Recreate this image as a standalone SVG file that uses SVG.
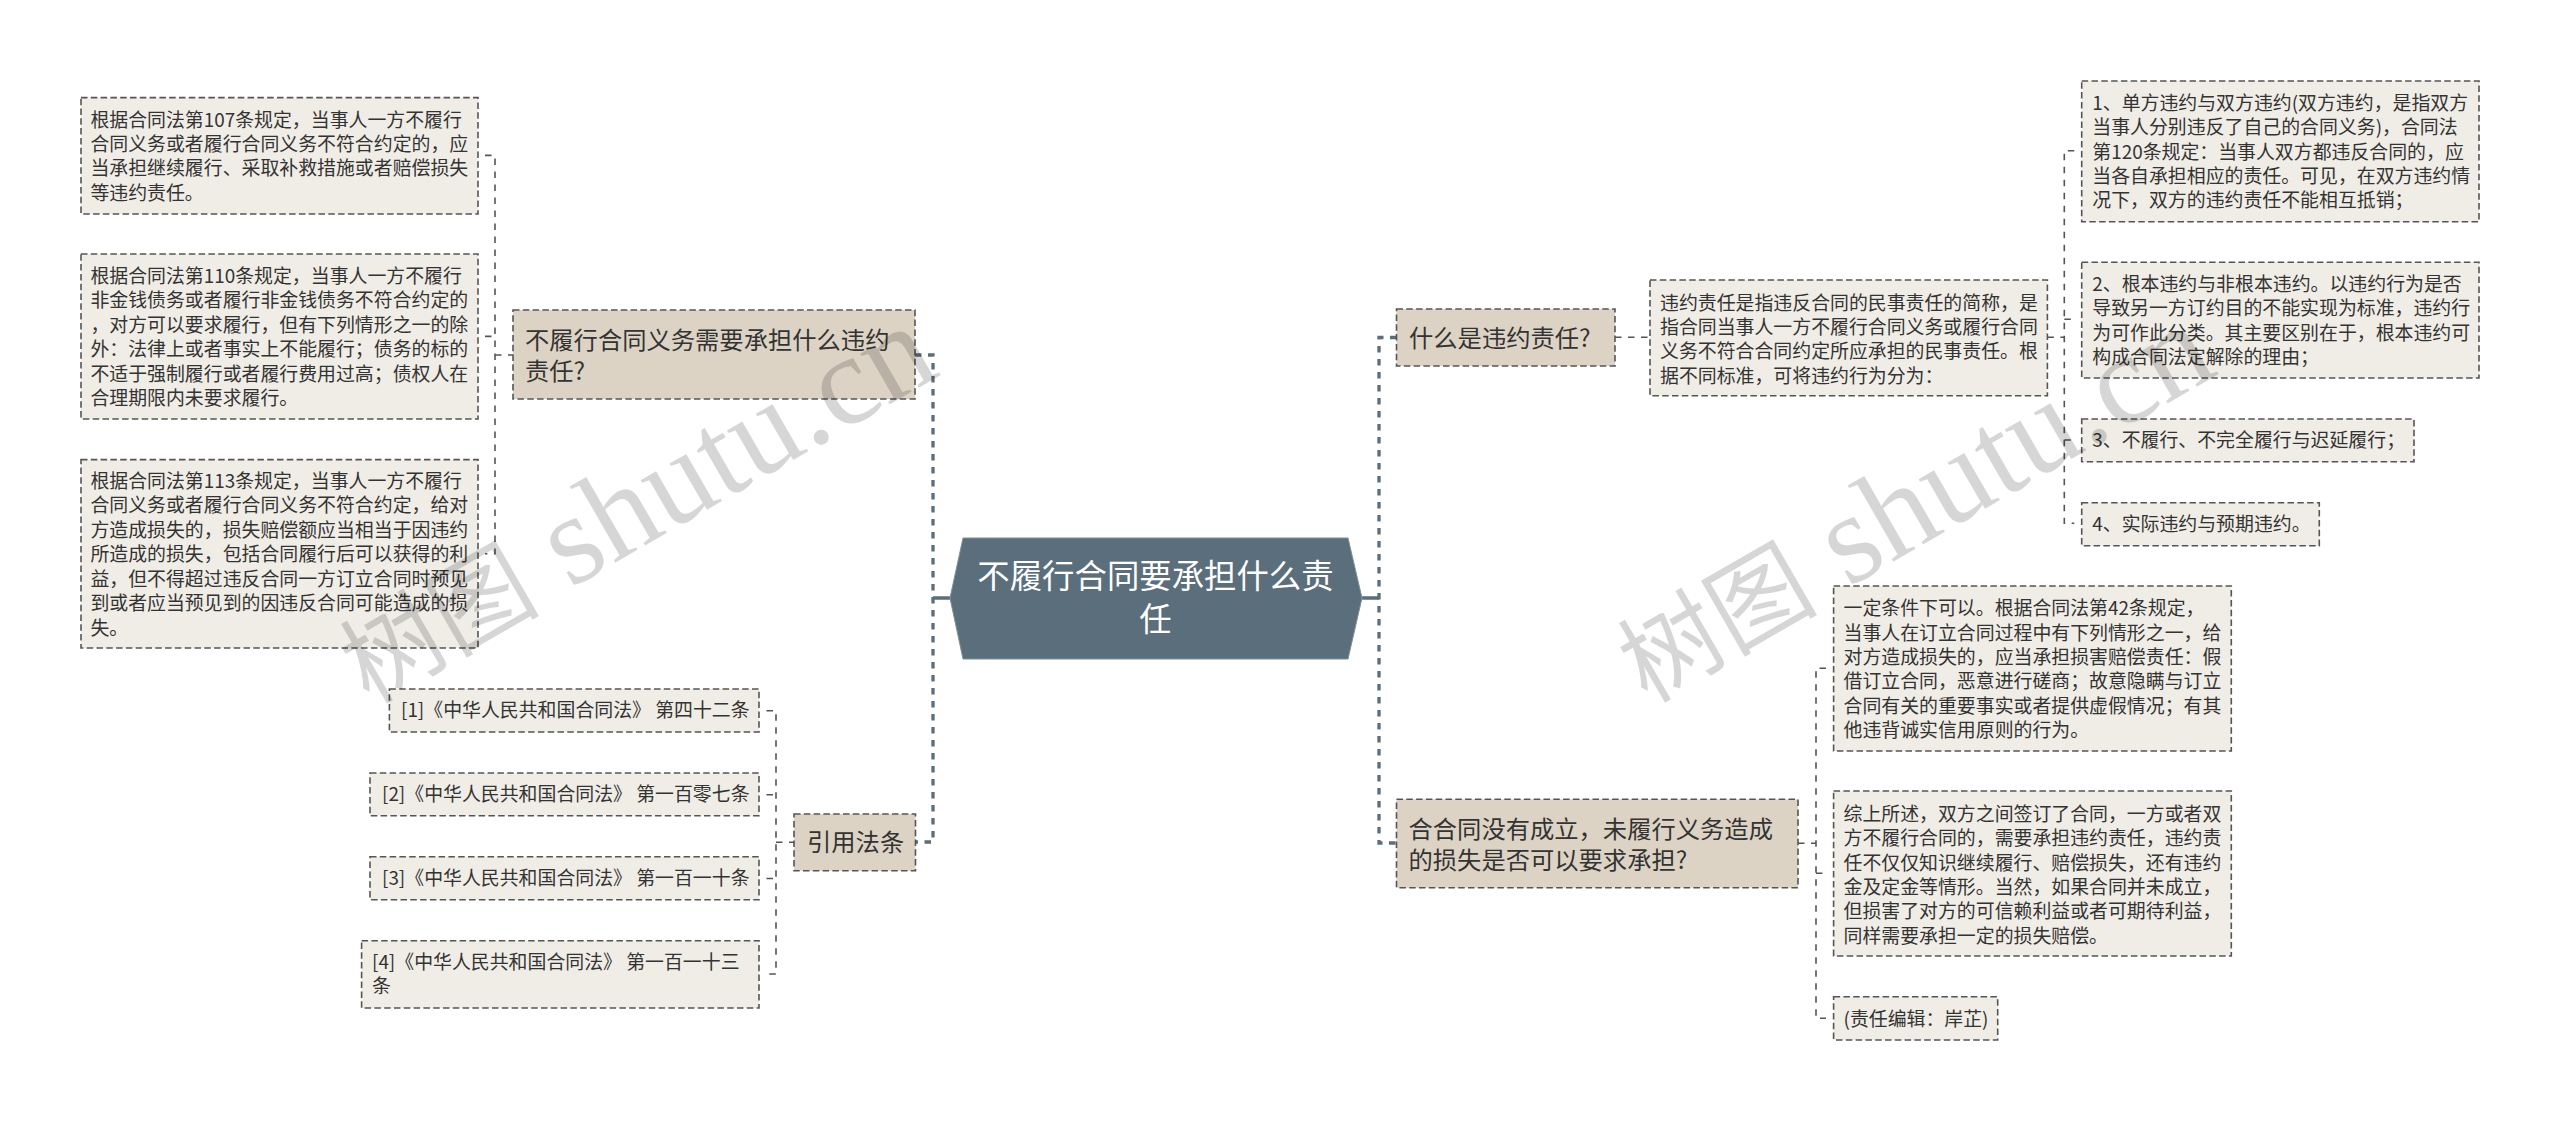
<svg xmlns="http://www.w3.org/2000/svg" width="2560" height="1121" viewBox="0 0 2560 1121">
<style>
text{font-family:"Noto Sans CJK SC","Noto Sans",sans-serif;fill:#333}
.leaf rect{fill:#f0ede6;stroke:#555;stroke-width:1.6;stroke-dasharray:6.5 3.3}
.leaf text{font-size:18.9px}
.branch rect{fill:#ddd3c5;stroke:#555;stroke-width:1.6;stroke-dasharray:6.5 3.3}
.branch text{font-size:24.3px}
.root polygon{fill:#5b6e7b;stroke:#7f8f9a;stroke-width:1}
.root text{font-size:32.4px;fill:#fff;text-anchor:middle}
.c1{fill:none;stroke:#5b6e7b;stroke-width:3.3;stroke-dasharray:6.5 6.5}
.c1s{fill:none;stroke:#5b6e7b;stroke-width:3.3}
.c2{fill:none;stroke:#555;stroke-width:1.6;stroke-dasharray:6.5 6.5}
.wm{font-family:"Liberation Serif","Noto Sans CJK SC",serif;font-size:128px;fill:#000;fill-opacity:.16}
.wm .cjk{font-size:100px;font-family:"Noto Sans CJK SC",sans-serif}
</style>
<g id="connectors">
<path class="c1s" d="M950 598H933M1362 598H1379"/>
<path class="c1" d="M915 355H933V842H915"/>
<path class="c1" d="M1396.500 337.500H1379V843H1396.500"/>
<path class="c2" d="M495 355H513M485 155.400H495V553.800H485M485 336.400H495"/>
<path class="c2" d="M776 842.300H794M766.500 710.700H776V974H766.500M766.500 794.700H776M766.500 878.500H776"/>
<path class="c2" d="M1615 337.300H1650"/>
<path class="c2" d="M2047.400 337.300H2064.300M2074.300 150.700H2064.300V523.300H2074.300M2064.300 319.300H2074.300M2064.300 440H2074.300"/>
<path class="c2" d="M1798 843.300H1816M1826 668.300H1816V1018.300H1826M1816 873.300H1826"/>
</g>
<g id="root" class="root"><polygon points="950,598 963,538 1348,538 1362,598 1348,659 963,659"/>
<text x="1155.500" y="588">不履行合同要承担什么责</text><text x="1155.500" y="631">任</text></g>
<g id="n-left-branch" class="branch"><rect x="513" y="310" width="402" height="89"/>
<text x="525" y="349">不履行合同义务需要承担什么违约</text><text x="525" y="380">责任?</text></g>
<g id="n-left-1" class="leaf"><rect x="81" y="97.600" width="397" height="116.400"/>
<text x="90.400" y="126.800">根据合同法第107条规定，当事人一方不履行</text>
<text x="90.400" y="150.900">合同义务或者履行合同义务不符合约定的，应</text>
<text x="90.400" y="175.400">当承担继续履行、采取补救措施或者赔偿损失</text>
<text x="90.400" y="199.500">等违约责任。</text></g>
<g id="n-left-2" class="leaf"><rect x="81" y="254" width="397" height="165"/>
<text x="90.400" y="282.900">根据合同法第110条规定，当事人一方不履行</text>
<text x="90.400" y="307.400">非金钱债务或者履行非金钱债务不符合约定的</text>
<text x="90.400" y="331.900">，对方可以要求履行，但有下列情形之一的除</text>
<text x="90.400" y="356.400">外：法律上或者事实上不能履行；债务的标的</text>
<text x="90.400" y="380.500">不适于强制履行或者履行费用过高；债权人在</text>
<text x="90.400" y="405">合理期限内未要求履行。</text></g>
<g id="n-left-3" class="leaf"><rect x="81" y="459.600" width="397" height="188.400"/>
<text x="90.400" y="487.600">根据合同法第113条规定，当事人一方不履行</text>
<text x="90.400" y="512.200">合同义务或者履行合同义务不符合约定，给对</text>
<text x="90.400" y="536.600">方造成损失的，损失赔偿额应当相当于因违约</text>
<text x="90.400" y="561.100">所造成的损失，包括合同履行后可以获得的利</text>
<text x="90.400" y="586">益，但不得超过违反合同一方订立合同时预见</text>
<text x="90.400" y="610.100">到或者应当预见到的因违反合同可能造成的损</text>
<text x="90.400" y="634.600">失。</text></g>
<g id="n-law-branch" class="branch"><rect x="794" y="814" width="121.500" height="56.700"/>
<text x="807" y="851">引用法条</text></g>
<g id="n-law-1" class="leaf"><rect x="389.400" y="689" width="369.600" height="43"/>
<text x="401" y="717.300">[1]《中华人民共和国合同法》 第四十二条</text></g>
<g id="n-law-2" class="leaf"><rect x="370" y="773" width="389" height="42.700"/>
<text x="382" y="801.300">[2]《中华人民共和国合同法》 第一百零七条</text></g>
<g id="n-law-3" class="leaf"><rect x="370" y="856.700" width="389" height="43"/>
<text x="382" y="885.300">[3]《中华人民共和国合同法》 第一百一十条</text></g>
<g id="n-law-4" class="leaf"><rect x="361.600" y="940.700" width="397.400" height="67.300"/>
<text x="372" y="969.300">[4]《中华人民共和国合同法》 第一百一十三</text><text x="372" y="993.300">条</text></g>
<g id="n-right-branch-1" class="branch"><rect x="1396.500" y="309" width="218.500" height="57"/>
<text x="1409" y="347">什么是违约责任?</text></g>
<g id="n-right-desc" class="leaf"><rect x="1650" y="280" width="397.400" height="115.700"/>
<text x="1660" y="309.900">违约责任是指违反合同的民事责任的简称，是</text>
<text x="1660" y="334.300">指合同当事人一方不履行合同义务或履行合同</text>
<text x="1660" y="358.300">义务不符合合同约定所应承担的民事责任。根</text>
<text x="1660" y="382.600">据不同标准，可将违约行为分为：</text></g>
<g id="n-right-1" class="leaf"><rect x="2081.700" y="81" width="397.300" height="140.700"/>
<text x="2092.300" y="109.900">1、单方违约与双方违约(双方违约，是指双方</text>
<text x="2092.300" y="134.300">当事人分别违反了自己的合同义务)，合同法</text>
<text x="2092.300" y="158.600">第120条规定：当事人双方都违反合同的，应</text>
<text x="2092.300" y="182.900">当各自承担相应的责任。可见，在双方违约情</text>
<text x="2092.300" y="207.300">况下，双方的违约责任不能相互抵销；</text></g>
<g id="n-right-2" class="leaf"><rect x="2081.700" y="262.300" width="397.300" height="115.700"/>
<text x="2092.300" y="290.600">2、根本违约与非根本违约。以违约行为是否</text>
<text x="2092.300" y="315.300">导致另一方订约目的不能实现为标准，违约行</text>
<text x="2092.300" y="339.900">为可作此分类。其主要区别在于，根本违约可</text>
<text x="2092.300" y="363.900">构成合同法定解除的理由；</text></g>
<g id="n-right-3" class="leaf"><rect x="2081.700" y="419" width="332.300" height="42.700"/>
<text x="2092.300" y="447.300">3、不履行、不完全履行与迟延履行；</text></g>
<g id="n-right-4" class="leaf"><rect x="2081.700" y="502.700" width="237.600" height="43"/>
<text x="2092.300" y="530.600">4、实际违约与预期违约。</text></g>
<g id="n-right-branch-2" class="branch"><rect x="1396.500" y="799.300" width="401.500" height="88.400"/>
<text x="1408.500" y="838">合合同没有成立，未履行义务造成</text><text x="1408.500" y="869">的损失是否可以要求承担?</text></g>
<g id="n-right-5" class="leaf"><rect x="1833.600" y="586" width="397.700" height="165"/>
<text x="1843.500" y="614.900">一定条件下可以。根据合同法第42条规定，</text>
<text x="1843.500" y="639.900">当事人在订立合同过程中有下列情形之一，给</text>
<text x="1843.500" y="663.900">对方造成损失的，应当承担损害赔偿责任：假</text>
<text x="1843.500" y="688.300">借订立合同，恶意进行磋商；故意隐瞒与订立</text>
<text x="1843.500" y="712.600">合同有关的重要事实或者提供虚假情况；有其</text>
<text x="1843.500" y="736.600">他违背诚实信用原则的行为。</text></g>
<g id="n-right-6" class="leaf"><rect x="1833.600" y="791" width="397.700" height="165"/>
<text x="1843.500" y="820.900">综上所述，双方之间签订了合同，一方或者双</text>
<text x="1843.500" y="844.900">方不履行合同的，需要承担违约责任，违约责</text>
<text x="1843.500" y="869.900">任不仅仅知识继续履行、赔偿损失，还有违约</text>
<text x="1843.500" y="893.900">金及定金等情形。当然，如果合同并未成立，</text>
<text x="1843.500" y="918.300">但损害了对方的可信赖利益或者可期待利益，</text>
<text x="1843.500" y="942.600">同样需要承担一定的损失赔偿。</text></g>
<g id="n-right-7" class="leaf"><rect x="1833.600" y="996.700" width="164.100" height="43.300"/>
<text x="1843.500" y="1025.600">(责任编辑：岸芷)</text></g>
<g id="watermarks">
<text class="wm" transform="translate(369 705) rotate(-30)"><tspan class="cjk">树图</tspan> shutu.cn</text>
<text class="wm" transform="translate(1647 704) rotate(-30)"><tspan class="cjk">树图</tspan> shutu.cn</text>
</g>
</svg>
